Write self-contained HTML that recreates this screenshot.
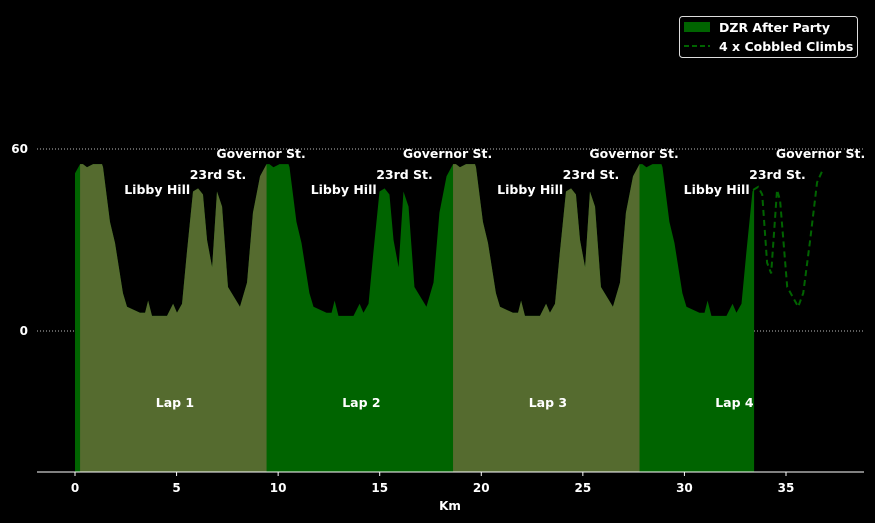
<!DOCTYPE html>
<html><head><meta charset="utf-8"><style>
html,body{margin:0;padding:0;background:#000;}
svg{display:block;font-family:"DejaVu Sans","Liberation Sans",sans-serif;font-weight:bold;}
</style></head><body>
<svg id="chart" width="875" height="523" viewBox="0 0 875 523"></svg>
<script>
const lapOffsetKm=[0,0.14,0.34,0.64,1.08,1.13,1.47,1.72,2.11,2.31,2.95,3.2,3.35,3.54,4.28,4.58,4.77,5.02,5.26,5.56,5.81,6.05,6.25,6.5,6.74,6.99,7.28,7.87,8.22,8.51,8.86,9.18];
const lapElev=[55,55,54,55,55,54,36,29,12.5,8,6,6,10,5,5,9,6,9,26,46,47,45,30,21,46,41,14.5,8,16,39,51,55];
const lapStarts=[0.25,9.43,18.61,27.79];
const lapNames=["Lap 1","Lap 2","Lap 3","Lap 4"];
const rideEndKm=33.43;
const rideEndElev=47;
const climbKm=[33.38,33.63,33.83,34.07,34.27,34.56,34.71,35.06,35.6,35.85,36.19,36.53,36.8];
const climbElev=[46.5,47.5,45,22.5,19,46.5,43,14.5,8,12.5,30,49,53];
const xTicks=[0,5,10,15,20,25,30,35];
const yTicks=[0,60];
const climbNames=["Libby Hill","23rd St.","Governor St."];
const climbLabelOffsets=[5.42,6.79,8.91];

const svg=document.getElementById('chart');
const NS='http://www.w3.org/2000/svg';
const X0=37,X1=864,YB=472;
const xs=k=>75+(k)*20.314;
const ys=e=>331-e*3.0333;
function mk(tag,attrs,parent){const el=document.createElementNS(NS,tag);for(const a in attrs)el.setAttribute(a,attrs[a]);(parent||svg).appendChild(el);return el;}

const rideKm=[0],rideElev=[52];
lapStarts.forEach(s=>{lapOffsetKm.forEach((d,i)=>{const k=s+d;if(k<rideEndKm){rideKm.push(k);rideElev.push(lapElev[i]);}});});
rideKm.push(rideEndKm);rideElev.push(rideEndElev);
function elevAt(k){for(let i=1;i<rideKm.length;i++){if(rideKm[i]>=k){const t=(k-rideKm[i-1])/((rideKm[i]-rideKm[i-1])||1);return rideElev[i-1]+t*(rideElev[i]-rideElev[i-1]);}}return rideElev[rideElev.length-1];}
function areaPath(a,b){let d='M'+xs(a)+','+YB+' L'+xs(a)+','+ys(elevAt(a));for(let i=0;i<rideKm.length;i++){if(rideKm[i]>a&&rideKm[i]<b)d+=' L'+xs(rideKm[i])+','+ys(rideElev[i]);}d+=' L'+xs(b)+','+ys(elevAt(b))+' L'+xs(b)+','+YB+' Z';return d;}

yTicks.forEach(v=>{
const g=mk('line',{x1:X0,x2:X1,y1:ys(v),y2:ys(v),stroke:'#bbb','stroke-width':1,'stroke-dasharray':'1,2'});


const t=mk('text',{x:28,y:ys(v)+4,fill:'#fff','font-size':12,'text-anchor':'end'});t.textContent=v;


});

const area=mk('path',{d:areaPath(0,rideEndKm),fill:'#006400'});


lapStarts.forEach((s,i)=>{
const e=Math.min(s+9.18,rideEndKm);
if(i%2===0){const p=mk('path',{d:areaPath(s,e),fill:'#556b2f'});

}
const lt=mk('text',{x:xs(s+4.67),y:407,fill:'#fff','font-size':12.5,'text-anchor':'middle'});lt.textContent=lapNames[i];


});
[...lapStarts,lapStarts[3]+9.18].forEach((s,li)=>{
climbNames.forEach((n,j)=>{
if(li===4&&j===0)return;
const ys2=[194,179,158][j];
const anchor=j===0?'end':'middle';
const t=mk('text',{x:xs(s+climbLabelOffsets[j]),y:ys2,fill:'#fff','font-size':12.5,'text-anchor':anchor});t.textContent=n;


});});

let dd='';climbKm.forEach((k,i)=>{dd+=(i?' L':'M')+xs(k)+','+ys(climbElev[i]);});
const dl=mk('path',{d:dd,fill:'none',stroke:'#006400','stroke-width':2,'stroke-dasharray':'6,4'});



const ax=mk('line',{x1:X0,x2:X1,y1:YB,y2:YB,stroke:'#fff','stroke-width':1});


xTicks.forEach(v=>{
mk('line',{x1:xs(v),x2:xs(v),y1:YB,y2:YB+4,stroke:'#fff'});
const t=mk('text',{x:xs(v),y:492,fill:'#fff','font-size':12,'text-anchor':'middle'});t.textContent=v;


});
const xt=mk('text',{x:450,y:510,fill:'#fff','font-size':12,'text-anchor':'middle'});xt.textContent='Km';



const lg=mk('g',{});


mk('rect',{x:679.5,y:16.5,width:178,height:41,rx:3,fill:'#000',stroke:'#ddd'},lg);
mk('rect',{x:684,y:22,width:26,height:10,fill:'#006400'},lg);
const l1=mk('text',{x:719,y:32,fill:'#fff','font-size':12.5},lg);l1.textContent='DZR After Party';


mk('line',{x1:684,x2:710,y1:46,y2:46,stroke:'#006400','stroke-width':2,'stroke-dasharray':'5,3'},lg);
const l2=mk('text',{x:719,y:51,fill:'#fff','font-size':12.5},lg);l2.textContent='4 x Cobbled Climbs';


</script>
</body></html>
